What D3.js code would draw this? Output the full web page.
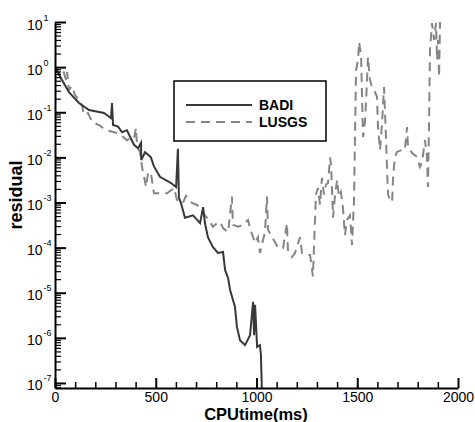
<!DOCTYPE html>
<html><head><meta charset="utf-8">
<script src="https://cdn.jsdelivr.net/npm/d3@7"></script>
<style>
html,body{margin:0;padding:0;background:#fff;}
svg{display:block;font-family:"Liberation Sans",Arial,sans-serif;}
</style></head>
<body><svg id="chart" width="475" height="422"></svg>
<script>
// ---- data ----
const badiTime = [0,69,119,169,243,278,283,288,313,333,357,392,412,427,428,447,476,491,521,576,601,610,615,625,645,685,720,735,744,759,784,809,834,844,859,869,893,903,918,943,968,983,988,993,1003,1017,1022,1027];
const badiResidual = [0.97,0.28,0.16,0.112,0.096,0.074,0.16,0.052,0.048,0.036,0.040,0.019,0.016,0.021,0.0087,0.013,0.010,0.0063,0.0037,0.0027,0.0022,0.0155,0.00126,0.00098,0.00046,0.00052,0.00035,0.00079,0.00035,0.00017,0.000102,7.6e-5,8e-5,3.2e-5,2.1e-5,1.15e-5,4.9e-6,1.75e-6,8.9e-7,6.9e-7,1.15e-6,6.3e-6,1.15e-6,5.4e-6,6.3e-7,6.9e-7,4.2e-7,6e-8];

const lusgsTime = [0,25,40,55,60,69,84,99,119,134,144,164,184,218,253,303,328,357,377,392,402,407,422,432,452,462,476,491,521,556,591,605,635,650,680,705,730,754,784,804,819,834,859,878,883,908,933,958,968,993,1007,1017,1042,1052,1057,1077,1092,1107,1132,1151,1156,1176,1191,1216,1226,1251,1266,1280,1295,1305,1315,1325,1335,1345,1355,1365,1370,1380,1390,1400,1409,1419,1429,1439,1449,1464,1474,1484,1494,1504,1509,1519,1524,1529,1539,1548,1553,1563,1573,1588,1598,1603,1613,1623,1633,1638,1643,1648,1653,1663,1673,1678,1687,1697,1722,1737,1747,1752,1772,1797,1811,1821,1836,1846,1851,1856,1861,1871,1881,1891,1896,1901,1906,1911];
const lusgsResidual = [1.0,0.70,0.86,0.52,0.78,0.31,0.38,0.24,0.19,0.14,0.087,0.096,0.061,0.052,0.040,0.035,0.031,0.024,0.027,0.026,0.045,0.018,0.013,0.0061,0.0022,0.0047,0.0045,0.0016,0.0016,0.0016,0.0021,0.00114,0.00098,0.0014,0.00098,0.00089,0.00062,0.00046,0.00029,0.00035,0.00037,0.00027,0.00022,0.00135,0.00032,0.00029,0.00032,0.00041,0.00027,0.000126,0.00017,7.6e-5,0.00022,0.00135,0.00025,0.00017,0.000132,9.8e-5,9.8e-5,0.00035,8.9e-5,6.2e-5,7.6e-5,0.00017,7.6e-5,6.9e-5,6.9e-5,2.3e-5,0.0015,0.0021,0.00089,0.0035,0.0015,0.0025,0.0027,0.010,0.0068,0.00046,0.0015,0.0032,0.00135,0.0017,0.00076,0.00019,0.00041,0.00052,0.000114,0.00114,0.86,1.44,3.6,1.86,0.19,0.028,0.067,0.45,1.68,0.52,0.36,0.28,0.22,0.047,0.0146,0.058,0.36,0.096,0.024,0.0052,0.0015,0.00113,0.00102,0.0037,0.0102,0.0132,0.0146,0.0146,0.047,0.017,0.0125,0.0102,0.0061,0.0075,0.024,0.0102,0.0022,0.047,2.4,9.5,4.0,9.5,1.44,4.0,0.60,10];

const seriesNames = ["BADI","LUSGS"];
const xTickValues = [0,500,1000,1500,2000];
const yTickExponents = [-7,-6,-5,-4,-3,-2,-1,0,1];
const xDomain = [0,2000];
const yDomain = [7.74e-8, 10];
const xTitle = "CPUtime(ms)";
const yTitle = "residual";

// ---- chart ----
const svg = d3.select("#chart");
const x = d3.scaleLinear().domain(xDomain).range([55,458]);
const y = d3.scaleLog().domain(yDomain).range([388,22]);

svg.append("defs").append("clipPath").attr("id","clip")
  .append("rect").attr("x",55).attr("y",0).attr("width",410).attr("height",388);

const line = d3.line().x(d=>x(d[0])).y(d=>y(d[1]));
const badi = badiTime.map((t,i)=>[t,badiResidual[i]]);
const lusgs = lusgsTime.map((t,i)=>[t,lusgsResidual[i]]);

const plot = svg.append("g").attr("clip-path","url(#clip)");
plot.append("path").datum(lusgs).attr("d",line).attr("fill","none")
  .attr("stroke","#858585").attr("stroke-width",2).attr("stroke-dasharray","9,6");
plot.append("path").datum(badi).attr("d",line).attr("fill","none")
  .attr("stroke","#383838").attr("stroke-width",2);

// x axis
const xMinor = d3.range(0,2001,100).filter(v=>v%500!==0);
svg.append("g").attr("transform","translate(0,388)")
  .call(d3.axisBottom(x).tickValues(xMinor).tickSize(-6).tickFormat(""))
  .call(g=>{g.select(".domain").remove();g.selectAll("line").attr("stroke","#000").attr("stroke-width",1.5);});
const gx = svg.append("g").attr("transform","translate(0,388)")
  .call(d3.axisBottom(x).tickValues(xTickValues).tickSizeInner(-10).tickSizeOuter(0).tickPadding(5).tickFormat(d3.format("d")));
gx.select(".domain").attr("stroke","#000").attr("stroke-width",2);
gx.selectAll("line").attr("stroke","#000").attr("stroke-width",2);
gx.selectAll("text").attr("font-size",14).attr("font-family","Liberation Sans, Arial, sans-serif").attr("fill","#000").attr("dy",null).attr("y",14);

// y axis
const yMajor = yTickExponents.map(e=>Math.pow(10,e));
const yMinor = [];
yTickExponents.forEach(e=>{ for(let k=2;k<=9;k++){ const v=k*Math.pow(10,e-1); if(v>=yDomain[0]&&v<=yDomain[1]) yMinor.push(v);} });
svg.append("g").attr("transform","translate(55,0)")
  .call(d3.axisLeft(y).tickValues(yMinor).tickSize(-6).tickFormat(""))
  .call(g=>{g.select(".domain").remove();g.selectAll("line").attr("stroke","#000").attr("stroke-width",1.2);});
const gy = svg.append("g").attr("transform","translate(55,0)")
  .call(d3.axisLeft(y).tickValues(yMajor).tickSizeInner(-11).tickSizeOuter(0).tickFormat(""));
gy.select(".domain").attr("stroke","#000").attr("stroke-width",2);
gy.selectAll("line").attr("stroke","#000").attr("stroke-width",2);
gy.selectAll(".tick").each(function(d,i){
  const t = d3.select(this).append("text").attr("x",-12).attr("y",7)
    .attr("fill","#000").attr("font-size",14).attr("text-anchor","start");
  t.append("tspan").attr("x",-28).text("10");
  t.append("tspan").attr("font-size",9).attr("dy",-9).attr("dx",1).text(String(yTickExponents[i]));
});

// titles
svg.append("text").attr("x",256).attr("y",420).attr("text-anchor","middle")
  .attr("font-weight","bold").attr("font-size",16.5).text(xTitle);
svg.append("text").attr("transform","translate(22,195) rotate(-90)").attr("text-anchor","middle")
  .attr("font-weight","bold").attr("font-size",18).text(yTitle);

// legend
const lg = svg.append("g");
lg.append("rect").attr("x",174).attr("y",81).attr("width",152).attr("height",60)
  .attr("fill","#fff").attr("stroke","#000").attr("stroke-width",1.5);
const legendY = [105,122];
const legendStyles = [{c:"#383838",d:null},{c:"#858585",d:"9,6"}];
seriesNames.forEach((n,i)=>{
  const l = lg.append("line").attr("x1",186).attr("x2",252).attr("y1",legendY[i]).attr("y2",legendY[i])
    .attr("stroke",legendStyles[i].c).attr("stroke-width",2);
  if(legendStyles[i].d) l.attr("stroke-dasharray",legendStyles[i].d);
  lg.append("text").attr("x",259).attr("y",legendY[i]+5).attr("font-weight","bold")
    .attr("font-size",14).text(n);
});
</script></body></html>
